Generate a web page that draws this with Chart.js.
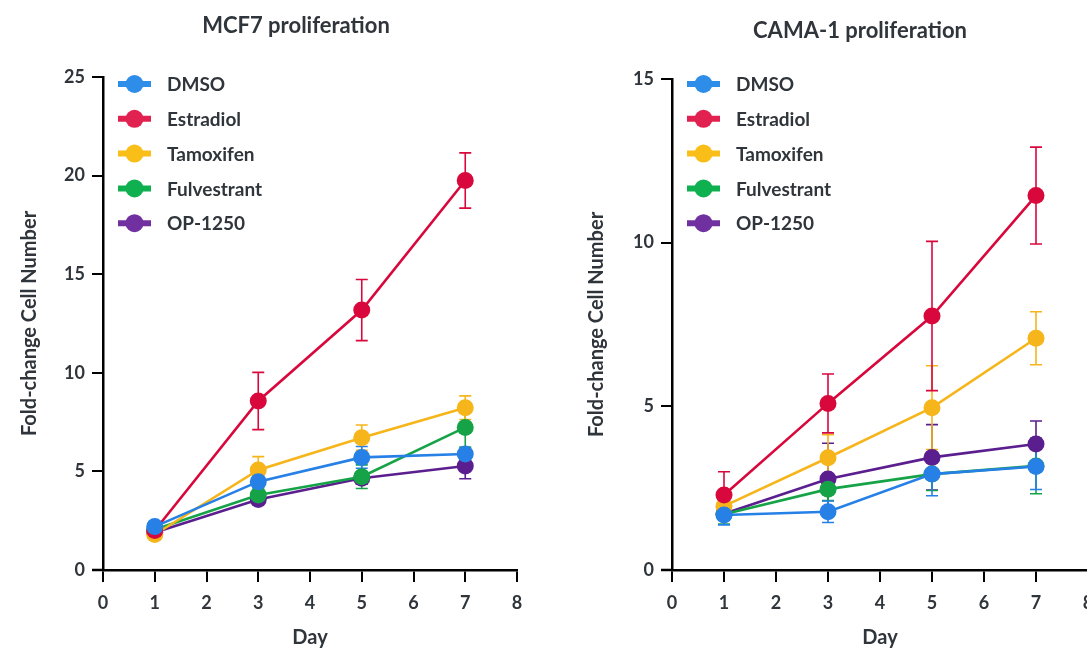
<!DOCTYPE html>
<html>
<head>
<meta charset="utf-8">
<script src="https://cdn.jsdelivr.net/npm/chart.js@4.4.1/dist/chart.umd.min.js"></script>
<style>
  html, body { margin: 0; padding: 0; background: #fff; overflow: hidden; width: 1087px; height: 654px; }
  .box { position: absolute; top: 0; }
  #b1 { left: 0; }
  #b2 { left: 560px; }
</style>
</head>
<body>
<div class="box" id="b1"><canvas id="c1" width="560" height="654"></canvas></div>
<div class="box" id="b2"><canvas id="c2" width="560" height="654"></canvas></div>
<script>
// ---------- data ----------
const days = [1, 3, 5, 7];
const seriesNames = ['DMSO', 'Estradiol', 'Tamoxifen', 'Fulvestrant', 'OP-1250'];
const xTicks = [0, 1, 2, 3, 4, 5, 6, 7, 8];
const mcf7YTicks = [0, 5, 10, 15, 20, 25];
const camaYTicks = [0, 5, 10, 15];

// MCF7 proliferation (mean, error)
const mcf7Dmso = [2.2, 4.48, 5.71, 5.88];
const mcf7DmsoErr = [0.2, 0.3, 0.55, 0.2];
const mcf7Estradiol = [2.0, 8.57, 13.18, 19.75];
const mcf7EstradiolErr = [0.15, 1.45, 1.55, 1.4];
const mcf7Tamoxifen = [1.8, 5.07, 6.71, 8.23];
const mcf7TamoxifenErr = [0.15, 0.68, 0.64, 0.6];
const mcf7Fulvestrant = [2.05, 3.8, 4.73, 7.23];
const mcf7FulvestrantErr = [0.15, 0.3, 0.6, 1.0];
const mcf7Op1250 = [1.9, 3.58, 4.65, 5.27];
const mcf7Op1250Err = [0.1, 0.2, 0.3, 0.64];

// CAMA-1 proliferation (mean, error)
const camaDmso = [1.68, 1.78, 2.93, 3.16];
const camaDmsoErr = [0.3, 0.33, 0.66, 0.7];
const camaEstradiol = [2.29, 5.09, 7.76, 11.44];
const camaEstradiolErr = [0.71, 0.9, 2.28, 1.48];
const camaTamoxifen = [1.95, 3.43, 4.96, 7.08];
const camaTamoxifenErr = [0.2, 0.7, 1.28, 0.81];
const camaFulvestrant = [1.7, 2.47, 2.93, 3.18];
const camaFulvestrantErr = [0.3, 0.35, 0.5, 0.85];
const camaOp1250 = [1.72, 2.78, 3.44, 3.85];
const camaOp1250Err = [0.2, 1.09, 1.0, 0.7];

// ---------- styles ----------
const lineColors = ['#2680e6', '#d9083c', '#f6b51a', '#16a347', '#5b1e8e'];
const legendColors = ['#2e8de9', '#e1214f', '#f9be17', '#0fb04f', '#7030a0'];
const textColor = '#2f353b';
const FONT = 'Lato, "Open Sans", sans-serif';

function makeDatasets(means, errs) {
  return means.map((m, i) => ({
    label: seriesNames[i],
    data: days.map((d, j) => ({ x: d, y: m[j] })),
    err: errs[i],
    borderColor: lineColors[i],
    backgroundColor: lineColors[i],
    pointBackgroundColor: lineColors[i],
    pointBorderColor: lineColors[i],
    pointRadius: 8.5,
    pointBorderWidth: 0,
    borderWidth: 2.6,
    tension: 0
  }));
}

const errorBarPlugin = {
  id: 'errorBars',
  beforeDatasetsDraw(chart) {
    const ctx = chart.ctx;
    const xs = chart.scales.x, ys = chart.scales.y;
    ctx.save();
    for (let i = chart.data.datasets.length - 1; i >= 0; i--) {
      const ds = chart.data.datasets[i];
      ctx.strokeStyle = ds.borderColor;
      ctx.lineWidth = 1.6;
      ds.data.forEach((p, j) => {
        const e = ds.err[j];
        const x = xs.getPixelForValue(p.x);
        const yt = ys.getPixelForValue(p.y + e);
        const yb = ys.getPixelForValue(p.y - e);
        ctx.beginPath();
        ctx.moveTo(x, yt); ctx.lineTo(x, yb);
        ctx.moveTo(x - 6, yt); ctx.lineTo(x + 6, yt);
        ctx.moveTo(x - 6, yb); ctx.lineTo(x + 6, yb);
        ctx.stroke();
      });
    }
    ctx.restore();
  }
};

const decoPlugin = {
  id: 'deco',
  afterDraw(chart, args, opts) {
    const ctx = chart.ctx;
    const a = chart.chartArea;
    ctx.save();
    // extend x axis line to the left of the y axis
    ctx.strokeStyle = '#000';
    ctx.lineWidth = 2.5;
    ctx.beginPath();
    ctx.moveTo(a.left - 11, a.bottom);
    ctx.lineTo(a.left, a.bottom);
    ctx.stroke();
    // title
    ctx.fillStyle = textColor;
    ctx.font = 'bold 22px ' + FONT;
    ctx.textAlign = 'center';
    ctx.textBaseline = 'middle';
    ctx.fillText(opts.title, opts.titleX, opts.titleY);
    // legend
    ctx.font = 'bold 19px ' + FONT;
    ctx.textAlign = 'left';
    chart.data.datasets.forEach((ds, i) => {
      const y = opts.legendTop + i * 34.8;
      const c = legendColors[i];
      ctx.strokeStyle = c;
      ctx.lineWidth = 6;
      ctx.beginPath();
      ctx.moveTo(a.left + 15, y);
      ctx.lineTo(a.left + 48, y);
      ctx.stroke();
      ctx.fillStyle = c;
      ctx.beginPath();
      ctx.arc(a.left + 31.5, y, 9, 0, Math.PI * 2);
      ctx.fill();
      ctx.fillStyle = textColor;
      ctx.fillText(ds.label, a.left + 64, y + 1);
    });
    ctx.restore();
  }
};

function makeChart(id, means, errs, yMax, yTicks, opt) {
  return new Chart(document.getElementById(id), {
    type: 'line',
    data: { datasets: makeDatasets(means, errs) },
    plugins: [errorBarPlugin, decoPlugin],
    options: {
      responsive: false,
      devicePixelRatio: 1,
      animation: false,
      events: [],
      layout: { padding: { left: 0, right: opt.padRight, top: opt.padTop, bottom: 0 } },
      plugins: {
        legend: { display: false },
        tooltip: { enabled: false },
        deco: { title: opt.title, titleX: opt.titleX, titleY: opt.titleY, legendTop: opt.legendTop }
      },
      scales: {
        x: {
          type: 'linear', min: 0, max: 8,
          afterBuildTicks(s) { s.ticks = xTicks.map(v => ({ value: v })); },
          afterFit(s) { s.height = 84; },
          ticks: { color: textColor, font: { family: FONT, size: 18, weight: 'bold' }, padding: 10 },
          grid: { drawOnChartArea: false, drawTicks: true, tickLength: 12, color: '#000', lineWidth: 2 },
          border: { color: '#000', width: 2.5 },
          title: { display: true, text: 'Day', color: textColor, font: { family: FONT, size: 20, weight: 'bold' }, padding: { top: 0, bottom: 4 } }
        },
        y: {
          type: 'linear', min: 0, max: yMax,
          afterBuildTicks(s) { s.ticks = yTicks.map(v => ({ value: v })); },
          afterFit(s) { s.width = opt.yWidth; },
          ticks: { color: textColor, font: { family: FONT, size: 18, weight: 'bold' }, padding: 7 },
          grid: { drawOnChartArea: false, drawTicks: true, tickLength: 11, color: '#000', lineWidth: 2 },
          border: { color: '#000', width: 2.5 },
          title: { display: true, text: 'Fold-change Cell Number', color: textColor, font: { family: FONT, size: 20, weight: 'bold' }, padding: { top: opt.yTitlePad, bottom: 0 } }
        }
      }
    }
  });
}

makeChart('c1',
  [mcf7Dmso, mcf7Estradiol, mcf7Tamoxifen, mcf7Fulvestrant, mcf7Op1250],
  [mcf7DmsoErr, mcf7EstradiolErr, mcf7TamoxifenErr, mcf7FulvestrantErr, mcf7Op1250Err],
  25, mcf7YTicks,
  { padRight: 43, padTop: 77, yWidth: 103, yTitlePad: 18, title: 'MCF7 proliferation', titleX: 296, titleY: 26, legendTop: 84 });

makeChart('c2',
  [camaDmso, camaEstradiol, camaTamoxifen, camaFulvestrant, camaOp1250],
  [camaDmsoErr, camaEstradiolErr, camaTamoxifenErr, camaFulvestrantErr, camaOp1250Err],
  15, camaYTicks,
  { padRight: 32, padTop: 79, yWidth: 112, yTitlePad: 25, title: 'CAMA-1 proliferation', titleX: 300, titleY: 31, legendTop: 84 });
</script>
</body>
</html>
